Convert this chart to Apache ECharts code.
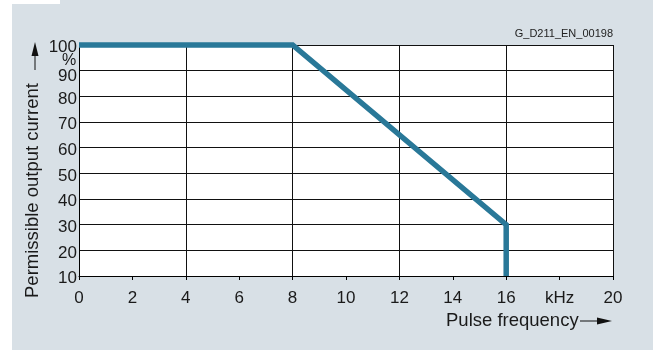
<!DOCTYPE html>
<html><head><meta charset="utf-8">
<script src="https://cdn.jsdelivr.net/npm/echarts@6/dist/echarts.min.js"></script>
<style>
html,body{margin:0;padding:0;background:#d8e0e6;overflow:hidden}
#wl{position:absolute;left:0;top:0;width:12px;height:100%;background:#fff}
#wt{position:absolute;left:0;top:0;width:60px;height:4px;background:#fff}
#c{position:absolute;left:0;top:0;width:653px;height:350px}
</style>
</head><body><div id="wl"></div><div id="wt"></div><div id="c"></div>
<script>
const freqKHz = [0, 8, 16, 16];
const currentPct = [100, 100, 30, 10];
const xTickLabels = {0:'0',2:'2',4:'4',6:'6',8:'8',10:'10',12:'12',14:'14',16:'16',18:'kHz',20:'20'};
const yTickLabels = {10:'10',20:'20',30:'30',40:'40',50:'50',60:'60',70:'70',80:'80',90:'90',100:'100'};
const yTitle = 'Permissible output current';
const xTitle = 'Pulse frequency';
const figId = 'G_D211_EN_00198';

const chart = echarts.init(document.getElementById('c'), null, {renderer:'canvas'});
const font = 'Liberation Sans, Arial, sans-serif';
const txt = '#1a1a1a';
chart.setOption({
  backgroundColor:'transparent',
  animation:false,
  grid:{left:79,right:40,top:45,bottom:74,show:true,backgroundColor:'#fff',borderWidth:0},
  xAxis:[{
    type:'value',min:0,max:20,interval:2,
    axisLine:{show:true,onZero:false,lineStyle:{color:'#000',width:1}},
    axisTick:{show:true,length:4,lineStyle:{color:'#000'}},
    axisLabel:{fontFamily:font,fontSize:17,color:txt,margin:14,formatter:v=>xTickLabels[v]||''},
    splitLine:{show:false}
  },{
    type:'value',min:0,max:20,interval:4,position:'bottom',
    axisLine:{show:false},axisTick:{show:false},axisLabel:{show:false},
    splitLine:{show:true,lineStyle:{color:'#111',width:1}}
  }],
  yAxis:{
    type:'value',min:10,max:100,interval:10,
    axisLine:{show:true,lineStyle:{color:'#000',width:1}},
    axisTick:{show:false},
    axisLabel:{fontFamily:font,fontSize:17,color:txt,margin:2,
      formatter:v=>v===90?'{b|90}':'{a|'+(yTickLabels[v]||'')+'}',
      rich:{
        a:{fontFamily:font,fontSize:17,color:txt,padding:[5,0,0,0]},
        b:{fontFamily:font,fontSize:17,color:txt,padding:[12,0,0,0]}
      }},
    splitLine:{show:true,lineStyle:{color:'#111',width:1}}
  },
  graphic:[
    {type:'text',right:40,top:28,style:{text:figId,fontFamily:font,fontSize:11,fill:'#222'}},
    {type:'text',left:62,top:53,style:{text:'%',fontFamily:font,fontSize:16,fill:txt}},
    {type:'text',x:33,y:298,rotation:Math.PI/2,
      style:{text:yTitle,fontFamily:font,fontSize:18.5,fill:txt,align:'left',verticalAlign:'middle'}},
    {type:'line',shape:{x1:35,y1:70,x2:35,y2:52},style:{stroke:'#111',lineWidth:1}},
    {type:'polygon',shape:{points:[[35,42],[31.5,56],[38.5,56]]},style:{fill:'#111'}},
    {type:'text',x:446,y:321,style:{text:xTitle,fontFamily:font,fontSize:18.5,fill:txt,verticalAlign:'middle'}},
    {type:'line',shape:{x1:580,y1:321,x2:600,y2:321},style:{stroke:'#111',lineWidth:1}},
    {type:'polygon',shape:{points:[[612,321],[597,317.5],[597,324.5]]},style:{fill:'#111'}}
  ],
  series:[{
    type:'line',xAxisIndex:0,symbol:'none',clip:false,
    data:freqKHz.map((x,i)=>[x,currentPct[i]]),
    lineStyle:{color:'#297898',width:5.5,cap:'butt',join:'miter'}
  }]
});
</script></body></html>
